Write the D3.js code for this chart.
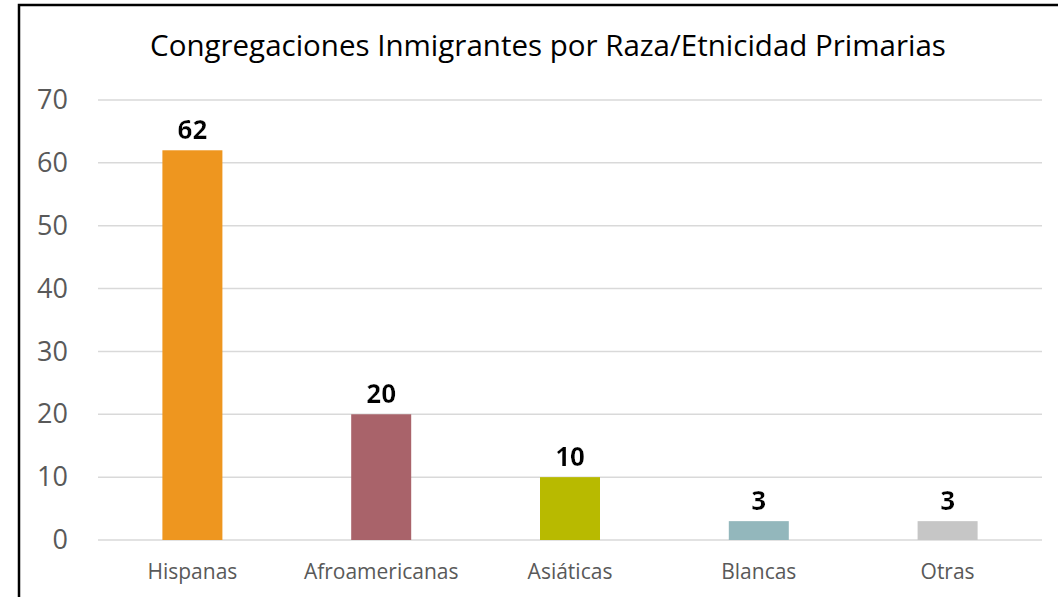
<!DOCTYPE html>
<html>
<head>
<meta charset="utf-8">
<script src="https://cdn.jsdelivr.net/npm/d3@7"></script>
<style>
  body { margin: 0; background: #fff; }
  svg { display: block; }
</style>
</head>
<body>
<div id="chart"></div>
<script>
const categories = ['Hispanas', 'Afroamericanas', 'Asiáticas', 'Blancas', 'Otras'];
const values = [62, 20, 10, 3, 3];
const barColors = ['#EE961F', '#A9636A', '#B8BA00', '#93B7BC', '#C6C6C6'];
const yTicks = [0, 10, 20, 30, 40, 50, 60, 70];
const chartTitle = 'Congregaciones Inmigrantes por Raza/Etnicidad Primarias';

const width = 1058, height = 597;
const margin = { top: 100, right: 16, bottom: 57, left: 98 };

const svg = d3.select('#chart').append('svg')
    .attr('width', width)
    .attr('height', height);

// outer frame
svg.append('rect')
    .attr('x', 19).attr('y', 5)
    .attr('width', width + 10).attr('height', height + 10)
    .attr('fill', '#fff')
    .attr('stroke', '#000')
    .attr('stroke-width', 2.5);

const defs = svg.append('defs');
const glow = defs.append('filter').attr('id', 'glow')
    .attr('x', '-30%').attr('y', '-30%').attr('width', '160%').attr('height', '160%');
glow.append('feMorphology').attr('in', 'SourceAlpha').attr('operator', 'dilate').attr('radius', 2).attr('result', 'd');
glow.append('feGaussianBlur').attr('in', 'd').attr('stdDeviation', 1.2).attr('result', 'b');
glow.append('feFlood').attr('flood-color', '#fff');
glow.append('feComposite').attr('in2', 'b').attr('operator', 'in').attr('result', 'w');
const merge = glow.append('feMerge');
merge.append('feMergeNode').attr('in', 'w');
merge.append('feMergeNode').attr('in', 'SourceGraphic');

const x = d3.scaleBand()
    .domain(categories)
    .range([margin.left, width - margin.right])
    .paddingInner(0)
    .paddingOuter(0);

const y = d3.scaleLinear()
    .domain([0, 70])
    .range([height - margin.bottom, margin.top]);

const barWidth = 60;

// title
svg.append('text')
    .attr('x', 548).attr('y', 56)
    .attr('text-anchor', 'middle')
    .attr('font-family', 'Open Sans, sans-serif')
    .attr('font-size', 29.5)
    .attr('fill', '#000')
    .text(chartTitle);

// gridlines
svg.append('g')
    .selectAll('line')
    .data(yTicks)
    .enter()
    .append('line')
    .attr('x1', margin.left)
    .attr('x2', width - margin.right)
    .attr('y1', d => y(d))
    .attr('y2', d => y(d))
    .attr('stroke', '#d9d9d9')
    .attr('stroke-width', 1.5);

// y axis labels
const yAxis = d3.axisLeft(y).tickValues(yTicks).tickSize(0).tickPadding(0);
svg.append('g')
    .attr('transform', 'translate(68,0)')
    .call(yAxis)
    .call(g => g.select('.domain').remove())
    .call(g => g.selectAll('text')
        .attr('font-family', 'Open Sans, sans-serif')
        .attr('font-size', 27)
        .attr('fill', '#595959'));

// x axis labels
const xAxis = d3.axisBottom(x).tickSize(0).tickPadding(0);
svg.append('g')
    .attr('transform', 'translate(0,' + (height - margin.bottom + 24) + ')')
    .call(xAxis)
    .call(g => g.select('.domain').remove())
    .call(g => g.selectAll('text')
        .attr('font-family', 'Open Sans, sans-serif')
        .attr('font-size', 21)
        .attr('fill', '#595959'));

// bars
svg.append('g')
    .selectAll('rect')
    .data(values)
    .enter()
    .append('rect')
    .attr('x', (d, i) => x(categories[i]) + x.bandwidth() / 2 - barWidth / 2)
    .attr('y', d => y(d))
    .attr('width', barWidth)
    .attr('height', d => y(0) - y(d))
    .attr('fill', (d, i) => barColors[i]);

// data labels
svg.append('g')
    .selectAll('text')
    .data(values)
    .enter()
    .append('text')
    .attr('x', (d, i) => x(categories[i]) + x.bandwidth() / 2)
    .attr('y', d => y(d) - 11)
    .attr('text-anchor', 'middle')
    .attr('font-family', 'Open Sans, sans-serif')
    .attr('font-weight', 'bold')
    .attr('font-size', 26)
    .attr('fill', '#000')
    .attr('filter', 'url(#glow)')
    .text(d => d);
</script>
</body>
</html>
